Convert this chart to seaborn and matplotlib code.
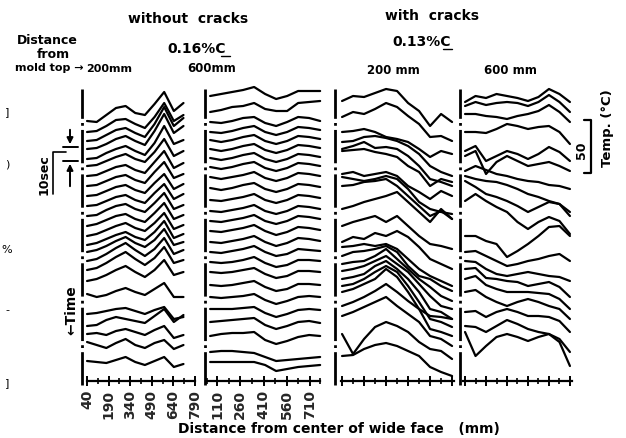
import numpy as np
import pandas as pd
import matplotlib
matplotlib.use("Agg")
import matplotlib.pyplot as plt
import seaborn as sns
from matplotlib.lines import Line2D

# measuring positions across the wide face (mm)
pos_p1 = [40, 107, 174, 241, 308, 375, 442, 509, 576, 643, 710]
pos_p2 = [65, 136, 207, 278, 349, 420, 491, 562, 633, 704, 775]
pos_p34 = [40, 115, 190, 265, 340, 415, 490, 565, 640, 715, 790]

# stacked temperature traces (1 unit ~ 1 deg C, offset by time)
p1_traces = [
    [260, 259, 266, 273, 275, 268, 266, 277, 289, 270, 278],
    [249, 250, 255, 261, 262, 257, 253, 264, 278, 260, 266],
    [240, 241, 246, 251, 253, 248, 244, 257, 274, 255, 263],
    [232, 233, 237, 242, 245, 240, 236, 250, 267, 248, 255],
    [222, 223, 228, 232, 235, 230, 226, 238, 255, 237, 241],
    [215, 216, 220, 224, 227, 222, 219, 229, 242, 225, 230],
    [205, 206, 210, 214, 216, 211, 208, 219, 230, 213, 218],
    [195, 196, 200, 204, 206, 201, 198, 209, 219, 203, 207],
    [185, 186, 190, 194, 196, 191, 188, 198, 207, 192, 197],
    [175, 176, 180, 184, 186, 181, 178, 188, 197, 182, 187],
    [165, 166, 171, 175, 177, 172, 169, 178, 188, 172, 176],
    [155, 157, 161, 165, 167, 162, 159, 168, 178, 162, 166],
    [145, 147, 151, 155, 158, 153, 150, 158, 168, 152, 156],
    [136, 138, 142, 146, 149, 144, 141, 149, 160, 143, 147],
    [129, 131, 135, 140, 144, 138, 134, 141, 152, 136, 139],
    [120, 122, 127, 133, 138, 131, 125, 132, 143, 127, 131],
    [111, 113, 118, 124, 129, 122, 116, 123, 134, 118, 121],
    [100, 102, 106, 111, 115, 109, 104, 111, 121, 106, 109],
    [87, 84, 86, 90, 93, 89, 86, 92, 98, 84, 84],
    [67, 68, 70, 72, 73, 70, 67, 71, 74, 62, 64],
    [55, 56, 61, 64, 62, 60, 58, 65, 72, 59, 66],
    [47, 48, 46, 50, 52, 49, 46, 51, 55, 43, 46],
    [39, 36, 33, 38, 42, 36, 33, 38, 41, 32, 36],
    [20, 19, 18, 21, 24, 19, 16, 20, 24, 14, 17],
]

p2_traces = [
    [285, 287, 289, 291, 294, 287, 282, 285, 290, 290, 290],
    [269, 271, 274, 275, 278, 272, 270, 270, 278, 279, 280],
    [259, 258, 260, 263, 264, 258, 255, 259, 264, 263, 260],
    [249, 248, 250, 253, 255, 249, 246, 249, 254, 253, 251],
    [241, 239, 241, 244, 246, 240, 237, 240, 245, 244, 242],
    [232, 230, 232, 235, 237, 231, 228, 231, 236, 235, 233],
    [223, 221, 223, 226, 228, 222, 219, 222, 227, 226, 224],
    [214, 212, 214, 217, 219, 213, 210, 213, 218, 217, 215],
    [204, 202, 204, 206, 209, 203, 200, 203, 208, 207, 205],
    [193, 191, 193, 196, 198, 192, 189, 192, 197, 196, 194],
    [181, 180, 182, 184, 187, 181, 178, 181, 186, 185, 183],
    [170, 169, 171, 173, 176, 170, 167, 170, 175, 174, 172],
    [160, 159, 161, 163, 166, 160, 157, 160, 165, 164, 162],
    [150, 149, 151, 153, 156, 150, 146, 149, 154, 153, 151],
    [139, 138, 140, 142, 145, 139, 135, 138, 143, 142, 140],
    [129, 128, 130, 132, 135, 129, 125, 127, 132, 131, 130],
    [119, 118, 119, 121, 124, 118, 114, 116, 121, 121, 120],
    [109, 108, 109, 111, 113, 107, 103, 105, 110, 110, 109],
    [96, 95, 96, 98, 100, 94, 90, 92, 97, 97, 96],
    [84, 83, 84, 85, 87, 81, 77, 80, 84, 85, 84],
    [72, 72, 72, 73, 74, 68, 64, 67, 71, 72, 71],
    [59, 60, 61, 62, 63, 56, 52, 55, 59, 60, 58],
    [45, 47, 48, 48, 49, 41, 37, 40, 44, 46, 45],
    [29, 30, 30, 29, 28, 24, 20, 21, 22, 23, 24],
    [19, 19, 19, 19, 19, 16, 10, 12, 14, 15, 16],
]

p3_traces = [
    [280, 285, 284, 288, 292, 290, 278, 270, 255, 267, 259],
    [264, 269, 267, 272, 278, 274, 265, 257, 244, 245, 240],
    [249, 250, 252, 249, 244, 242, 239, 232, 224, 230, 227],
    [239, 240, 244, 245, 243, 240, 235, 227, 215, 209, 205],
    [232, 235, 239, 233, 234, 232, 225, 215, 202, 199, 195],
    [230, 231, 232, 229, 227, 224, 215, 209, 195, 202, 199],
    [207, 209, 205, 207, 209, 205, 195, 189, 182, 190, 185],
    [204, 202, 200, 202, 205, 202, 192, 179, 172, 169, 167],
    [195, 196, 199, 200, 202, 195, 185, 175, 165, 170, 162],
    [172, 175, 179, 182, 185, 189, 179, 169, 159, 172, 162],
    [155, 159, 162, 165, 159, 165, 155, 145, 137, 135, 132],
    [139, 144, 142, 148, 145, 150, 144, 134, 122, 117, 112],
    [134, 135, 137, 135, 137, 132, 122, 112, 105, 100, 95],
    [125, 129, 130, 132, 135, 129, 115, 105, 102, 95, 90],
    [117, 119, 120, 125, 132, 122, 112, 102, 94, 85, 80],
    [110, 112, 115, 120, 125, 117, 109, 97, 85, 75, 72],
    [102, 104, 107, 115, 120, 112, 102, 89, 72, 69, 62],
    [95, 97, 102, 109, 115, 109, 95, 79, 62, 59, 54],
    [89, 92, 97, 102, 112, 104, 89, 72, 52, 49, 45],
    [75, 79, 84, 90, 97, 89, 80, 72, 65, 64, 62],
    [65, 69, 74, 79, 84, 75, 67, 59, 45, 42, 35],
    [47, 27, 42, 54, 59, 55, 49, 39, 32, 30, 22],
    [25, 26, 32, 36, 38, 35, 30, 25, 14, 9, 5],
]

p4_traces = [
    [279, 285, 283, 287, 285, 283, 280, 284, 292, 287, 279],
    [275, 279, 276, 278, 279, 278, 275, 279, 286, 279, 269],
    [267, 267, 265, 264, 262, 265, 267, 270, 276, 269, 259],
    [249, 249, 248, 252, 257, 255, 252, 254, 255, 249, 237],
    [230, 235, 220, 225, 230, 227, 222, 227, 234, 229, 220],
    [225, 230, 207, 219, 225, 220, 215, 217, 219, 215, 210],
    [210, 215, 211, 207, 205, 202, 200, 199, 196, 195, 192],
    [205, 202, 200, 199, 196, 192, 187, 184, 180, 177, 169],
    [200, 194, 187, 184, 180, 175, 169, 174, 179, 177, 165],
    [180, 187, 180, 174, 169, 159, 152, 159, 164, 160, 147],
    [145, 145, 140, 137, 124, 130, 137, 145, 154, 155, 145],
    [129, 130, 125, 120, 115, 117, 120, 122, 125, 127, 120],
    [120, 119, 112, 107, 105, 107, 109, 107, 105, 104, 100],
    [112, 113, 103, 102, 100, 99, 95, 97, 99, 94, 84],
    [102, 105, 96, 92, 89, 89, 89, 88, 87, 82, 72],
    [89, 91, 84, 79, 75, 79, 82, 79, 75, 72, 62],
    [69, 70, 64, 69, 72, 69, 65, 65, 64, 60, 49],
    [55, 54, 49, 55, 61, 57, 52, 49, 47, 42, 29],
    [49, 25, 35, 44, 47, 44, 40, 44, 47, 39, 15],
]

p1_ticks = [40, 190, 340, 490, 640, 790]
p2_ticks = [110, 260, 410, 560, 710]

W, H = 626, 439


def fx(px):
    return px / W


def fy(py):
    return 1 - py / H


def to_frame(pos, traces):
    rows = []
    for k, tr in enumerate(traces):
        for x, v in zip(pos, tr):
            rows.append([x, v, k])
    return pd.DataFrame(rows, columns=["pos", "level", "trace"])


sns.set_theme(style="white")
plt.rcParams["font.family"] = ["DejaVu Sans"]
plt.rcParams["font.weight"] = "bold"

fig = plt.figure(figsize=(6.26, 4.39), dpi=100)

y_bot, y_top = 382, 90
ylim = (0, y_bot - y_top)

# (left px, right px, xlim, spine bounds, positions, traces, major, minor, labels)
panels = [
    (82, 197, (5, 804), (40, 790), pos_p1, p1_traces, p1_ticks,
     [115, 265, 415, 565, 715], True),
    (205, 322, (32, 787), (45, 775), pos_p2, p2_traces, p2_ticks,
     [45, 185, 335, 485, 635, 775], True),
    (335, 455, (-8, 810), (30, 800), pos_p34, p3_traces, p1_ticks,
     [115, 265, 415, 565, 715], False),
    (460, 574, (4, 819), (26, 804), pos_p34, p4_traces, p1_ticks,
     [115, 265, 415, 565, 715], False),
]

for left, right, xl, bounds, pos, traces, major, minor, show in panels:
    ax = fig.add_axes([fx(left), fy(y_bot), (right - left) / W, (y_bot - y_top) / H])
    df = to_frame(pos, traces)
    sns.lineplot(data=df, x="pos", y="level", units="trace", estimator=None,
                 color="black", lw=1.6, sort=False, ax=ax, legend=False)
    for ln in ax.lines:
        ln.set_clip_on(False)
    ax.set_xlim(*xl)
    ax.set_ylim(*ylim)
    ax.set_facecolor("white")
    for s in ["top", "right", "left"]:
        ax.spines[s].set_visible(False)
    ax.spines["bottom"].set_bounds(*bounds)
    ax.spines["bottom"].set_linewidth(1.6)
    ax.spines["bottom"].set_color("black")
    ax.axvline(xl[0] + (xl[1] - xl[0]) * 0.004, ymin=-0.012, ymax=1.0, color="black",
               lw=2.0, ls=(0, (12, 1.5, 1, 1.5)), clip_on=False)
    ax.set_xticks(major)
    ax.set_xticks(minor, minor=True)
    ax.set_yticks([])
    ax.tick_params(axis="x", which="major", direction="inout", length=7, width=1.4,
                   color="black", bottom=True, pad=2)
    ax.tick_params(axis="x", which="minor", direction="inout", length=4.5, width=1.2,
                   color="black", bottom=True)
    if show:
        ax.set_xticklabels([str(t) for t in major], rotation=90, fontsize=10,
                           fontweight="bold")
    else:
        ax.set_xticklabels([])
    ax.set_xlabel("")
    ax.set_ylabel("")

txt = dict(fontweight="bold", color="black", ha="center", va="center")
fig.text(fx(188), fy(19), "without  cracks", fontsize=10, **txt)
fig.text(fx(432), fy(16), "with  cracks", fontsize=10, **txt)
fig.text(fx(197), fy(49), "0.16%C", fontsize=10, **txt)
fig.text(fx(422), fy(42), "0.13%C", fontsize=10, **txt)
fig.add_artist(Line2D([fx(221), fx(230)], [fy(57), fy(57)], color="black", lw=1.0))
fig.add_artist(Line2D([fx(443), fx(452)], [fy(50), fy(50)], color="black", lw=1.0))
fig.text(fx(47), fy(40), "Distance", fontsize=9, **txt)
fig.text(fx(53), fy(54), "from", fontsize=9, **txt)
fig.text(fx(49), fy(68), "mold top \u2192", fontsize=8, **txt)
fig.text(fx(109), fy(69), "200mm", fontsize=8, **txt)
fig.text(fx(212), fy(69), "600mm", fontsize=8.5, **txt)
fig.text(fx(393), fy(70), "200 mm", fontsize=8.5, **txt)
fig.text(fx(510), fy(70), "600 mm", fontsize=8.5, **txt)
fig.text(fx(339), fy(429), "Distance from center of wide face   (mm)",
         fontsize=10, **txt)

# temperature scale bar
fig.add_artist(Line2D([fx(584), fx(591), fx(591), fx(584)],
                      [fy(121), fy(121), fy(174), fy(174)], color="black", lw=1.6))
fig.text(fx(582), fy(150), "50", fontsize=9, rotation=90, **txt)
fig.text(fx(607), fy(128), "Temp. (\u00b0C)", fontsize=9.5, rotation=90, **txt)

# time interval marker
fig.text(fx(44), fy(175), "10sec", fontsize=9, rotation=90, **txt)
fig.add_artist(Line2D([fx(53), fx(53), fx(66)], [fy(195), fy(153), fy(153)],
                      color="black", lw=1.2))
fig.add_artist(Line2D([fx(63), fx(78)], [fy(148), fy(148)], color="black", lw=1.4))
fig.add_artist(Line2D([fx(63), fx(78)], [fy(162), fy(162)], color="black", lw=1.4))
fig.patches.append(matplotlib.patches.FancyArrowPatch(
    (fx(70), fy(128)), (fx(70), fy(148)), transform=fig.transFigure,
    arrowstyle="-|>", mutation_scale=9, color="black", lw=1.4))
fig.patches.append(matplotlib.patches.FancyArrowPatch(
    (fx(70), fy(190)), (fx(70), fy(162)), transform=fig.transFigure,
    arrowstyle="-|>", mutation_scale=9, color="black", lw=1.4))
fig.text(fx(71), fy(310), "\u2190Time", fontsize=10, rotation=90, **txt)

# bits of the neighbouring page visible at the left edge of the scan
for py, s in [(112, "]"), (165, ")"), (250, "%"), (310, "-"), (383, "]")]:
    fig.text(fx(7), fy(py), s, fontsize=8, fontweight="normal", color="black",
             ha="center", va="center")

fig.savefig("out.png", dpi=100, facecolor="white")
